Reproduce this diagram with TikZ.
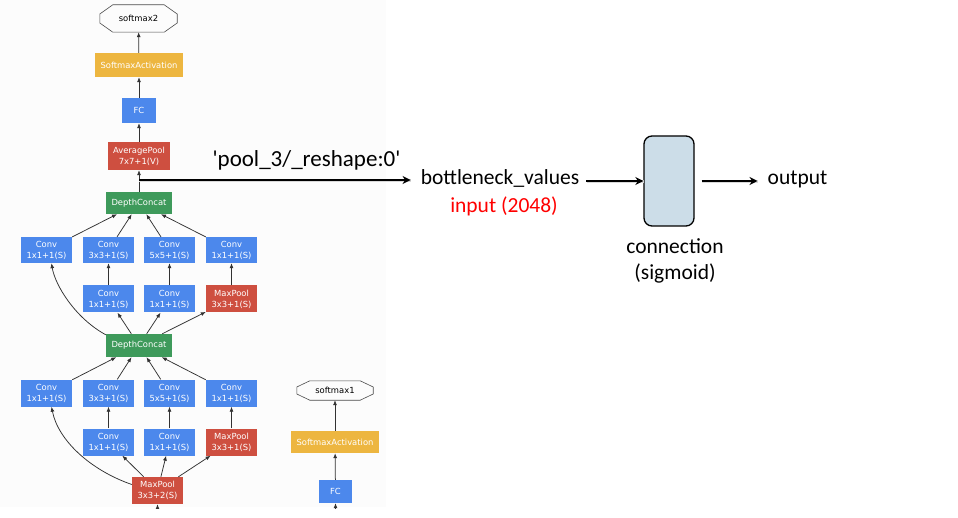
\documentclass[tikz,border=0pt]{standalone}
\usepackage{fontspec}
\setmainfont{Carlito}
\newfontfamily\netfont{DejaVu Sans}
\usetikzlibrary{arrows.meta,calc,positioning}
\definecolor{nnblue}{RGB}{76,136,236}
\definecolor{nnred}{RGB}{206,79,64}
\definecolor{nngreen}{RGB}{62,154,91}
\definecolor{nnyellow}{RGB}{237,182,64}
\definecolor{nnedge}{RGB}{50,50,50}
\definecolor{cellfill}{RGB}{204,221,232}
\tikzset{
  layer/.style={rectangle, inner sep=0pt, minimum width=51pt, minimum height=27pt, align=center, text=white, font=\netfont\fontsize{8.4}{11}\selectfont},
  conv/.style={layer, fill=nnblue},
  pool/.style={layer, fill=nnred},
  concat/.style={layer, fill=nngreen, minimum width=66pt, minimum height=23pt},
  act/.style={layer, fill=nnyellow, minimum width=88pt, minimum height=23pt},
  outbox/.style={layer, text=black},
  edge/.style={draw=nnedge, line width=0.75pt, -{Latex[length=5pt,width=4pt]}},
  bigarrow/.style={line width=2.4pt, -{Stealth[length=8pt,width=8pt]},
    preaction={draw=black!15, line width=3pt, -, transform canvas={shift={(0.4pt,-1pt)}}}},
  lbl/.style={font=\fontsize{21.5}{26}\selectfont, inner sep=0pt, anchor=base}
}
% octagon round a node: node, x inset, half of the short side
\newcommand\octo[3]{\draw[gray!60!black, line width=0.6pt] ([xshift=#2]#1.north west) -- ([xshift=-#2]#1.north east) -- ([yshift=#3]#1.east) -- ([yshift=-#3]#1.east) -- ([xshift=-#2]#1.south east) -- ([xshift=#2]#1.south west) -- ([yshift=-#3]#1.west) -- ([yshift=#3]#1.west) -- cycle;}

\begin{document}
\begin{tikzpicture}[x=1pt,y=-1pt]
\useasboundingbox (0,0) rectangle (958,518);

% screenshot of the inception graph
\fill[black!1] (0,0) rectangle (386,507);
\begin{scope}
\clip (0,0) rectangle (386,508);

% head
\node[outbox, minimum width=77pt, minimum height=27pt] (sm2) at (138.5,18.5) {softmax2};
\octo{sm2}{13pt}{4.5pt}
\node[act, minimum height=24pt] (saA) at (139,65) {SoftmaxActivation};
\node[conv, minimum width=34pt, minimum height=25pt] (fcA) at (139,110.5) {FC};
\node[pool, minimum width=62pt, minimum height=28pt] (avgpool) at (139,156) {AveragePool\\7x7+1(V)};
\node[concat, minimum height=22pt] (dcA) at (139,203) {DepthConcat};
\coordinate (tap) at (139,180);

% upper inception block
\node[conv, minimum height=26pt] (cA1) at (46.5,250) {Conv\\1x1+1(S)};
\node[conv, minimum height=26pt] (cA2) at (108.5,250) {Conv\\3x3+1(S)};
\node[conv, minimum height=26pt] (cA3) at (169.5,250) {Conv\\5x5+1(S)};
\node[conv, minimum height=26pt] (cA4) at (231.5,250) {Conv\\1x1+1(S)};
\node[conv] (rA2) at (108.5,299) {Conv\\1x1+1(S)};
\node[conv] (rA3) at (169.5,299) {Conv\\1x1+1(S)};
\node[pool] (rA4) at (231.5,299) {MaxPool\\3x3+1(S)};
\node[concat] (dcB) at (139,345.5) {DepthConcat};

% lower inception block
\node[conv] (cB1) at (46.5,393) {Conv\\1x1+1(S)};
\node[conv] (cB2) at (108.5,393) {Conv\\3x3+1(S)};
\node[conv] (cB3) at (169.5,393) {Conv\\5x5+1(S)};
\node[conv] (cB4) at (231.5,393) {Conv\\1x1+1(S)};
\node[conv] (rB2) at (108.5,442) {Conv\\1x1+1(S)};
\node[conv] (rB3) at (169.5,442) {Conv\\1x1+1(S)};
\node[pool] (rB4) at (231.5,442) {MaxPool\\3x3+1(S)};
\node[pool] (mpool) at (157.5,490.5) {MaxPool\\3x3+2(S)};
\coordinate (mpin) at (157.5,540);

% auxiliary head
\node[outbox, minimum width=76pt, minimum height=19pt] (sm1) at (335,390.5) {softmax1};
\octo{sm1}{13pt}{3.5pt}
\node[act, minimum height=22pt] (saB) at (335,442) {SoftmaxActivation};
\node[conv, minimum width=33pt, minimum height=23pt] (fcB) at (335.5,491.5) {FC};
\coordinate (fcin) at (335.5,540);

% edges
\draw[edge] (saA) -- (sm2);
\draw[edge] (fcA) -- (saA);
\draw[edge] (avgpool) -- (fcA);
\draw[edge] (dcA) -- (avgpool);
\foreach \c in {cA1,cA2,cA3,cA4}
  \draw[edge] (\c) -- (dcA);
\foreach \r/\c in {rA2/cA2,rA3/cA3,rA4/cA4}
  \draw[edge] (\r) -- (\c);
\foreach \r in {rA2,rA3,rA4}
  \draw[edge] (dcB) -- (\r);
\draw[edge] ([yshift=-1pt]dcB.north west) .. controls (75,318) and (55,285) .. ([xshift=5pt]cA1.south);
\foreach \c in {cB1,cB2,cB3,cB4}
  \draw[edge] (\c) -- (dcB);
\foreach \r/\c in {rB2/cB2,rB3/cB3,rB4/cB4}
  \draw[edge] (\r) -- (\c);
\foreach \r in {rB2,rB3,rB4}
  \draw[edge] (mpool) -- (\r);
\draw[edge] ([yshift=6pt]mpool.west) .. controls (90,470) and (58,440) .. ([xshift=5pt]cB1.south);
\draw[edge] (mpin) -- (mpool);
\draw[edge] (saB) -- (sm1);
\draw[edge] (fcB) -- (saB);
\draw[edge] (fcin) -- (fcB);
\end{scope}

% retrained layer
\node[lbl, font=\fontsize{23}{26}\selectfont] (tensor) at (306.5,167) {\textquotesingle pool\_3/\_reshape:0\textquotesingle};
\node[lbl] (bneck) at (500,185) {bottleneck\_values};
\node[lbl, text=red] (inp) at (504,213) {input (2048)};
\node[draw, line width=1.3pt, rounded corners=8pt, fill=cellfill, minimum width=50pt, minimum height=90pt] (conn) at (669,181) {};
\node[lbl, align=center, anchor=north] (conntxt) at (675,238) {connection\\(sigmoid)};
\node[lbl] (out) at (797.5,185) {output};

\draw[bigarrow, shorten >=10pt] (tap) -- (tap -| bneck.west);
\draw[bigarrow, shorten <=7pt] (bneck.east |- conn.west) -- (conn.west);
\draw[bigarrow, shorten <=7pt, shorten >=10pt] (conn.east) -- (conn.east -| out.west);
\end{tikzpicture}
\end{document}
